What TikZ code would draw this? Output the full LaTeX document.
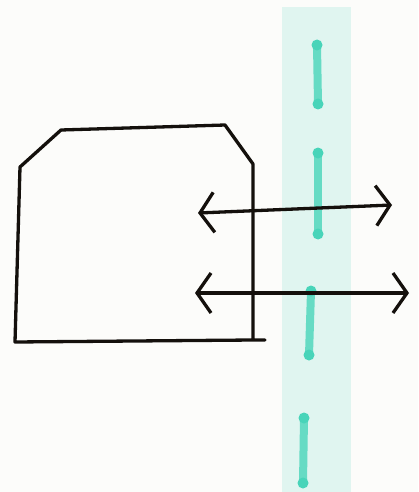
\documentclass[tikz,border=0pt]{standalone}
\usetikzlibrary{arrows.meta}
\definecolor{paper}{RGB}{252,252,250}
\definecolor{band}{RGB}{224,245,240}
\definecolor{marker}{RGB}{72,212,185}
\definecolor{ink}{RGB}{20,16,12}
\tikzset{
  inkline/.style={draw=ink, line width=3.3pt, line cap=round, line join=round},
  twoway/.style={inkline, {Straight Barb[length=14pt,width=40pt]}-{Straight Barb[length=14pt,width=40pt]}},
  markerdash/.style={draw=marker!80!band, line width=8pt, line cap=round},
  markerend/.style={fill=marker}
}
\newcommand{\markdash}[2]{%
  \draw[markerdash] #1 -- #2;
  \fill[markerend] #1 circle (5.5);
  \fill[markerend] #2 circle (5.5);
}
\begin{document}
\begin{tikzpicture}[x=1pt,y=-1pt]
  \fill[paper] (0,0) rectangle (418,492);
  \useasboundingbox (0,0) rectangle (418,492);
  % translucent band
  \fill[band] (282,7) rectangle (351,492);
  % dashed marker line
  \markdash{(317,45)}{(318,104)}
  \markdash{(318,153)}{(318,234)}
  \markdash{(311,291)}{(309,355)}
  \markdash{(304,418)}{(303,483)}
  % box with chamfered top corners
  \coordinate (tl1) at (20,167);
  \coordinate (tl2) at (61,130);
  \coordinate (tr1) at (225,125);
  \coordinate (tr2) at (253,164);
  \coordinate (br) at (253,340);
  \coordinate (brx) at (265,340);
  \coordinate (bl) at (15,342);
  \draw[inkline] (brx) -- (br) -- (tr2) -- (tr1) -- (tl2) -- (tl1) -- (bl) -- (br);
  % double arrows
  \coordinate (a1l) at (198,213);
  \coordinate (a1r) at (392,205);
  \coordinate (a2l) at (195,293);
  \coordinate (a2r) at (409,293);
  \draw[twoway] (a1l) -- (a1r);
  \draw[twoway] (a2l) -- (a2r);
\end{tikzpicture}
\end{document}
